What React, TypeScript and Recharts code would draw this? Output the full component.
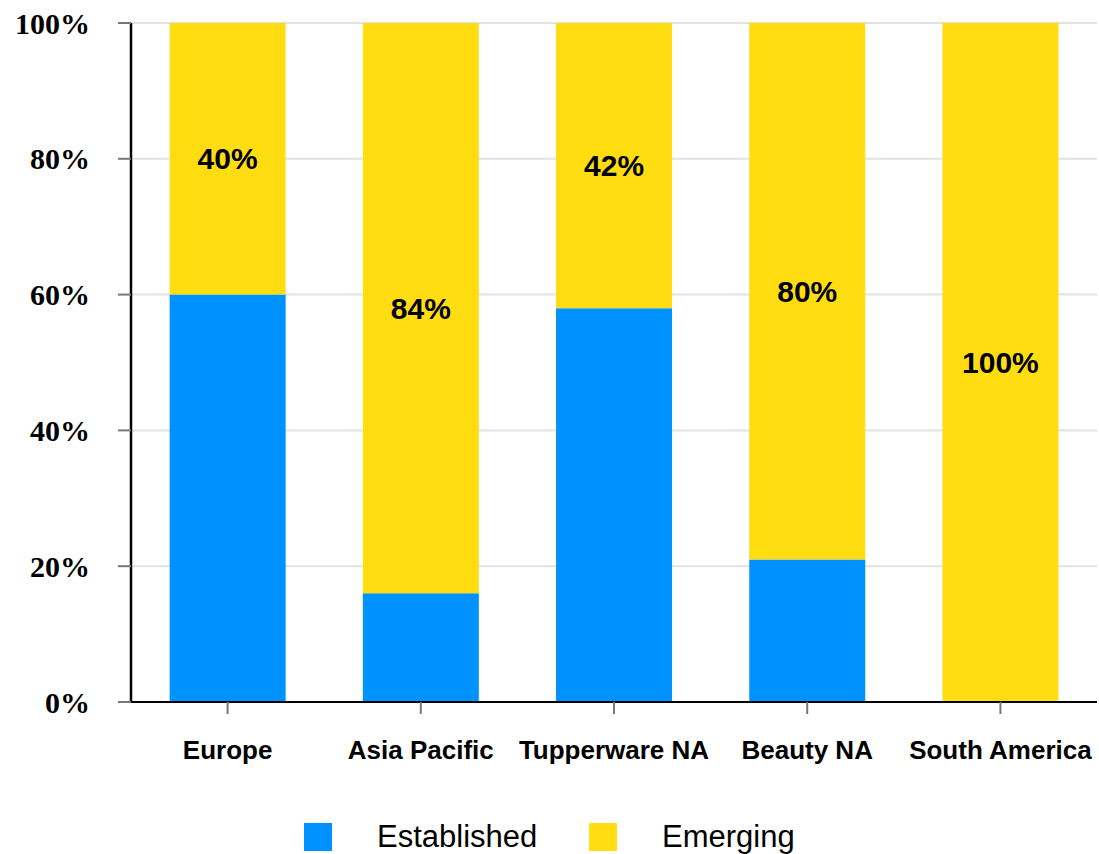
import { BarChart, Bar, XAxis, YAxis, CartesianGrid, Legend, LabelList } from 'recharts';

// Share of sales by market type, per business segment (percent)
const regions = ['Europe', 'Asia Pacific', 'Tupperware NA', 'Beauty NA', 'South America'];
const established = [60, 16, 58, 21, 0];
const emerging = [40, 84, 42, 80, 100];
const yTicks = [0, 20, 40, 60, 80, 100];

const BLUE = '#0092ff';
const YELLOW = '#ffdd10';
const SANS = '"Liberation Sans", Arial, sans-serif';
const SERIF = '"Liberation Serif", "Times New Roman", serif';

const data = regions.map((name, i) => ({
  name,
  established: established[i],
  emerging: emerging[i],
}));

function LegendBox() {
  const item = (color: string, text: string, boxLeft: number, textLeft: number) => (
    <>
      <div
        style={{ position: 'absolute', left: boxLeft, top: 29, width: 28, height: 28, background: color }}
      />
      <div
        style={{
          position: 'absolute',
          left: textLeft,
          top: 29,
          height: 28,
          lineHeight: '28px',
          fontSize: 31,
          color: '#000',
          whiteSpace: 'nowrap',
        }}
      >
        {text}
      </div>
    </>
  );
  return (
    <div style={{ position: 'relative', width: 1099, height: 60, fontFamily: SANS }}>
      {item(BLUE, 'Established', 304, 377)}
      {item(YELLOW, 'Emerging', 589, 662)}
    </div>
  );
}

export default function App() {
  return (
    <div style={{ position: 'absolute', left: 0, top: 0, width: 1099, height: 854, background: '#fff' }}>
      <BarChart
        width={1099}
        height={854}
        data={data}
        margin={{ top: 23, right: 2, left: 0, bottom: 0 }}
        barCategoryGap="20%"
      >
        <CartesianGrid vertical={false} stroke="#e2e2e2" strokeWidth={2} />
        <XAxis
          dataKey="name"
          interval={0}
          height={92}
          axisLine={{ stroke: '#000', strokeWidth: 2 }}
          tickLine={{ stroke: '#777', strokeWidth: 2 }}
          tickSize={12}
          tickMargin={27}
          tick={{ fill: '#000', fontSize: 26, fontWeight: 'bold', fontFamily: SANS }}
        />
        <YAxis
          width={131}
          domain={[0, 100]}
          allowDataOverflow
          ticks={yTicks}
          tickFormatter={(v: number) => `${v}%`}
          axisLine={{ stroke: '#000', strokeWidth: 2.5 }}
          tickLine={{ stroke: '#777', strokeWidth: 2 }}
          tickSize={13}
          tickMargin={28}
          tick={{ fill: '#000', fontSize: 30, fontWeight: 'bold', fontFamily: SERIF }}
        />
        <Legend
          verticalAlign="bottom"
          content={() => <LegendBox />}
          wrapperStyle={{ left: 0, bottom: 0, width: 1099 }}
        />
        <Bar dataKey="established" name="Established" stackId="a" fill={BLUE} isAnimationActive={false} />
        <Bar dataKey="emerging" name="Emerging" stackId="a" fill={YELLOW} isAnimationActive={false}>
          <LabelList
            dataKey="emerging"
            position="center"
            formatter={(v: number) => `${v}%`}
            fill="#000"
            fontSize={30}
            fontWeight="bold"
            fontFamily={SANS}
          />
        </Bar>
      </BarChart>
    </div>
  );
}
